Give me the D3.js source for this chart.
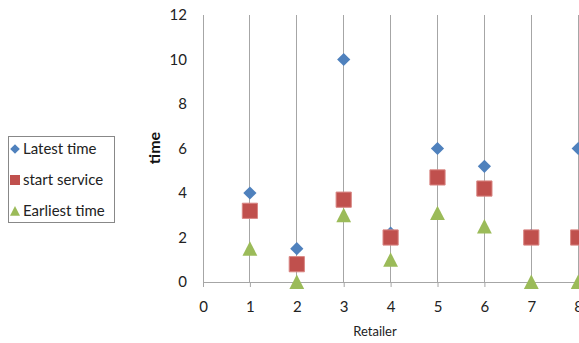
<!DOCTYPE html>
<html>
<head>
<meta charset="utf-8">
<script src="https://cdn.jsdelivr.net/npm/d3@7"></script>
<style>
  html, body { margin: 0; padding: 0; background: #fff; }
  svg { display: block; font-family: Lato, "Open Sans", sans-serif; }
</style>
</head>
<body>
<svg id="chart" width="579" height="343"></svg>
<script>
// Retailers on the x axis
const retailers = [1, 2, 3, 4, 5, 6, 7, 8];
// Time windows per retailer
const latestTime   = [4, 1.5, 10, 2.2, 6, 5.2, 2.1, 6];
const startService = [3.2, 0.8, 3.7, 2, 4.7, 4.2, 2, 2];
const earliestTime = [1.5, 0, 3, 1, 3.1, 2.5, 0, 0];
const yTicks = [0, 2, 4, 6, 8, 10, 12];
const xTicks = [0, 1, 2, 3, 4, 5, 6, 7, 8];

const series = [
  { name: "Latest time",   values: latestTime,   color: "#4F81BD", shape: "diamond" },
  { name: "start service", values: startService, color: "#C0504D", shape: "square" },
  { name: "Earliest time", values: earliestTime, color: "#9BBB59", shape: "triangle" }
];

const svg = d3.select("#chart");
const gridColor = "#a6a6a6";

const x = d3.scaleLinear().domain([0, 10]).range([203, 203 + 10 * 46.9]);
const y = d3.scaleLinear().domain([0, 12]).range([282, 15]);

// Vertical gridlines at each retailer
svg.append("g")
  .selectAll("line")
  .data(d3.range(0, 11))
  .join("line")
  .attr("x1", d => x(d)).attr("x2", d => x(d))
  .attr("y1", y(12)).attr("y2", y(0))
  .attr("stroke", gridColor).attr("stroke-width", 1)
  .attr("shape-rendering", "crispEdges");

// X axis
const xAxis = svg.append("g")
  .attr("transform", `translate(0,${y(0)})`)
  .call(d3.axisBottom(x).tickValues(xTicks).tickSize(5).tickSizeOuter(0).tickPadding(14));
xAxis.select(".domain").attr("stroke", gridColor);
xAxis.selectAll(".tick line").attr("stroke", gridColor);
xAxis.selectAll("text").attr("font-size", 15).attr("fill", "#222")
  .attr("font-family", "Lato, sans-serif");

// Y axis labels (no axis line: the x=0 gridline stands in)
const yAxis = svg.append("g")
  .attr("transform", `translate(${x(0)},0)`)
  .call(d3.axisLeft(y).tickValues(yTicks).tickSize(0).tickPadding(16));
yAxis.select(".domain").remove();
yAxis.selectAll("text").attr("font-size", 15).attr("fill", "#222")
  .attr("font-family", "Lato, sans-serif");

// Axis titles
svg.append("text")
  .attr("transform", `translate(160,148) rotate(-90)`)
  .attr("text-anchor", "middle")
  .attr("font-size", 16).attr("font-weight", "bold").attr("fill", "#111")
  .text("time");

svg.append("text")
  .attr("x", 375).attr("y", 336)
  .attr("text-anchor", "middle")
  .attr("font-size", 13).attr("fill", "#222")
  .text("Retailer");

// Marker shapes as explicit paths, sized by half-width h
function markerPath(shape, h) {
  const p = d3.path();
  if (shape === "diamond") {
    p.moveTo(0, -h); p.lineTo(h, 0); p.lineTo(0, h); p.lineTo(-h, 0); p.closePath();
  } else if (shape === "square") {
    p.rect(-h, -h, 2 * h, 2 * h);
  } else {
    p.moveTo(0, -h); p.lineTo(h, h * 0.95); p.lineTo(-h, h * 0.95); p.closePath();
  }
  return p.toString();
}
const markerSize = { diamond: 6.6, square: 7.6, triangle: 7.4 };
const legendSize = { diamond: 4.8, square: 5, triangle: 5 };

// Points — latest first so the squares sit on top of them
series.forEach(s => {
  svg.append("g")
    .selectAll("path")
    .data(retailers.map((r, i) => ({ r, v: s.values[i] })))
    .join("path")
    .attr("d", markerPath(s.shape, markerSize[s.shape]))
    .attr("transform", d => `translate(${x(d.r)},${y(d.v)})`)
    .attr("fill", s.color)
    .attr("stroke", s.shape === "square" ? "#d98683" : "none")
    .attr("stroke-width", 1);
});

// Legend
const legend = svg.append("g");
legend.append("rect")
  .attr("x", 8.5).attr("y", 136.5).attr("width", 106).attr("height", 86)
  .attr("fill", "#fff").attr("stroke", "#888");
series.forEach((s, i) => {
  const cy = 149 + i * 31;
  legend.append("path")
    .attr("d", markerPath(s.shape, legendSize[s.shape]))
    .attr("transform", `translate(15,${cy})`)
    .attr("fill", s.color);
  legend.append("text")
    .attr("x", 23).attr("y", cy)
    .attr("dy", "0.35em")
    .attr("font-size", 15).attr("fill", "#222")
    .text(s.name);
});
</script>
</body>
</html>
